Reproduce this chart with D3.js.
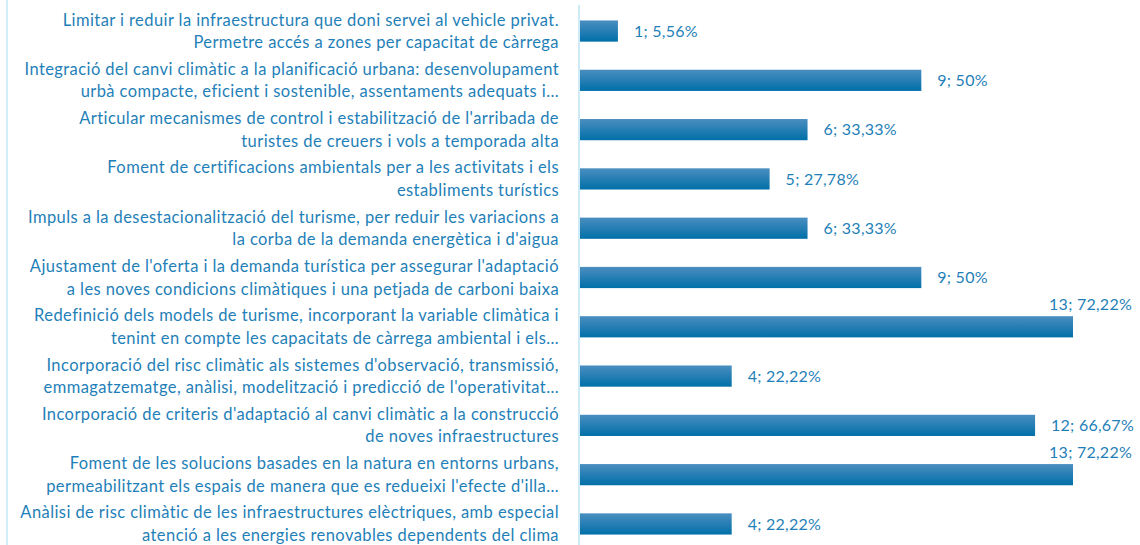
<!DOCTYPE html>
<html>
<head>
<meta charset="utf-8">
<script src="https://cdn.jsdelivr.net/npm/d3@7"></script>
<style>
  html, body { margin: 0; padding: 0; background: #fff; }
  svg { display: block; }
</style>
</head>
<body>
<svg id="chart" width="1140" height="545"></svg>
<script>
// Mesures (línies d'etiqueta separades per \n)
const categories = [
  "Limitar i reduir la infraestructura que doni servei al vehicle privat.\nPermetre accés a zones per capacitat de càrrega",
  "Integració del canvi climàtic a la planificació urbana: desenvolupament\nurbà compacte, eficient i sostenible, assentaments adequats i…",
  "Articular mecanismes de control i estabilització de l'arribada de\nturistes de creuers i vols a temporada alta",
  "Foment de certificacions ambientals per a les activitats i els\nestabliments turístics",
  "Impuls a la desestacionalització del turisme, per reduir les variacions a\nla corba de la demanda energètica i d'aigua",
  "Ajustament de l'oferta i la demanda turística per assegurar l'adaptació\na les noves condicions climàtiques i una petjada de carboni baixa",
  "Redefinició dels models de turisme, incorporant la variable climàtica i\ntenint en compte les capacitats de càrrega ambiental i els…",
  "Incorporació del risc climàtic als sistemes d'observació, transmissió,\nemmagatzematge, anàlisi, modelització i predicció de l'operativitat…",
  "Incorporació de criteris d'adaptació al canvi climàtic a la construcció\nde noves infraestructures",
  "Foment de les solucions basades en la natura en entorns urbans,\npermeabilitzant els espais de manera que es redueixi l'efecte d'illa…",
  "Anàlisi de risc climàtic de les infraestructures elèctriques, amb especial\natenció a les energies renovables dependents del clima"
];
// Nombre de respostes per mesura
const counts = [1, 9, 6, 5, 6, 9, 13, 4, 12, 13, 4];
// Percentatge sobre el total de respostes
const percents = ["5,56%", "50%", "33,33%", "27,78%", "33,33%", "50%", "72,22%", "22,22%", "66,67%", "72,22%", "22,22%"];

const W = 1140, H = 545;
const textColor = "#1f7fb8";
const fontFamily = "Lato, 'Noto Sans', sans-serif";

const svg = d3.select("#chart");

const plotLeft = 579, plotRight = 1134;
const x = d3.scaleLinear().domain([0, 13]).range([plotLeft + 1, 1073]);
const y = d3.scaleBand()
  .domain(d3.range(categories.length))
  .range([6.4, 548.6])
  .paddingInner(0.57)
  .paddingOuter(0.285);

// Degradat de les barres
const defs = svg.append("defs");
const grad = defs.append("linearGradient")
  .attr("id", "barGrad").attr("x1", 0).attr("y1", 0).attr("x2", 0).attr("y2", 1);
grad.append("stop").attr("offset", "0%").attr("stop-color", "#4b8ec0");
grad.append("stop").attr("offset", "100%").attr("stop-color", "#006fa8");

// Vora esquerra de l'àrea del gràfic
svg.append("line")
  .attr("x1", 7).attr("x2", 7).attr("y1", 0).attr("y2", H)
  .attr("stroke", "#d4eef9").attr("stroke-width", 2);

// Eix de categories
const yAxis = d3.axisLeft(y).tickSize(0).tickPadding(20).tickFormat(() => "");
const gy = svg.append("g")
  .attr("transform", `translate(${plotLeft},0)`)
  .call(yAxis);
gy.select(".domain")
  .attr("stroke", "#cdeaf6").attr("stroke-width", 2)
  .attr("d", `M0,5V${H}`);

gy.selectAll(".tick text").each(function(i) {
  const t = d3.select(this)
    .attr("fill", textColor)
    .attr("font-family", fontFamily)
    .attr("font-size", 16.5)
    .attr("letter-spacing", 0.42)
    .attr("text-anchor", "end")
    .attr("dy", null)
    .attr("x", -20);
  const lines = categories[i].split("\n");
  const lh = 22.5;
  const y0 = -((lines.length - 1) * lh) / 2;
  lines.forEach((ln, k) => {
    t.append("tspan")
      .attr("x", -20)
      .attr("y", y0 + k * lh)
      .attr("dy", "0.35em")
      .text(ln);
  });
});

// Barres
svg.append("g").selectAll("rect")
  .data(counts)
  .join("rect")
  .attr("x", x(0))
  .attr("y", (d, i) => y(i))
  .attr("width", d => x(d) - x(0))
  .attr("height", y.bandwidth())
  .attr("fill", "url(#barGrad)");

// Etiquetes de valor
const labels = svg.append("g").selectAll("text")
  .data(counts)
  .join("text")
  .attr("fill", textColor)
  .attr("font-family", fontFamily)
  .attr("font-size", 16)
  .attr("letter-spacing", 0.25)
  .text((d, i) => `${d}; ${percents[i]}`);

labels.each(function(d, i) {
  const t = d3.select(this);
  const w = this.getComputedTextLength();
  const xs = x(d) + 16;
  if (xs + w > plotRight) {
    // No hi cap a la dreta: s'alinea amb la vora i puja sobre la barra
    t.attr("x", plotRight - 2).attr("text-anchor", "end")
     .attr("y", y(i) - 6);
  } else {
    t.attr("x", xs).attr("text-anchor", "start")
     .attr("y", y(i) + y.bandwidth() / 2).attr("dy", "0.35em");
  }
});
</script>
</body>
</html>
